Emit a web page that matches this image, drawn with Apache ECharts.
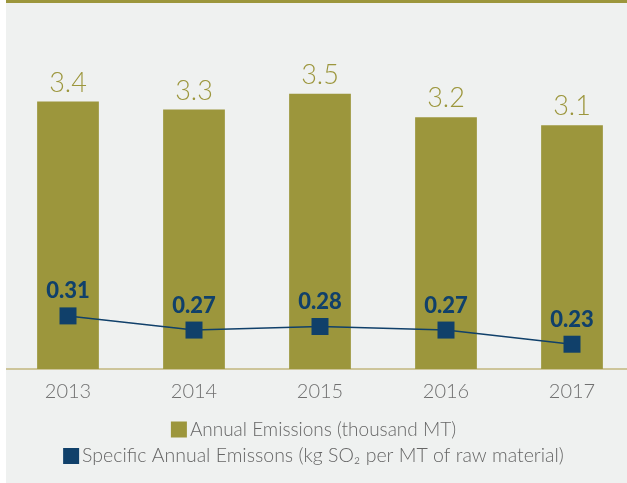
<!DOCTYPE html>
<html>
<head>
<meta charset="utf-8">
<script src="https://cdn.jsdelivr.net/npm/echarts@6/dist/echarts.min.js"></script>
<style>
html,body{margin:0;padding:0;background:#fff;}
#main{width:627px;height:483px;}
</style>
</head>
<body>
<div id="main"></div>
<script>
var categories = ['2013', '2014', '2015', '2016', '2017'];
var annualEmissions = [3.4, 3.3, 3.5, 3.2, 3.1];
var specificEmissions = [0.31, 0.27, 0.28, 0.27, 0.23];
var barName = 'Annual Emissions (thousand MT)';
var lineName = 'Specific Annual Emissons (kg SO\u2082 per MT of raw material)';

var olive = '#9c963c';
var navy = '#10406a';
var font = 'Lato';

var chart = echarts.init(document.getElementById('main'));
chart.setOption({
  backgroundColor: '#eff1f0',
  animation: false,
  textStyle: { fontFamily: font },
  graphic: [
    { type: 'rect', left: 0, top: 0, z: 100, shape: { width: 6, height: 483 }, style: { fill: '#ffffff' } },
    { type: 'rect', left: 6, top: 0, z: 100, shape: { width: 621, height: 3 }, style: { fill: olive } }
  ],
  grid: { left: 5, top: 15, right: -8, bottom: 114, containLabel: false, outerBoundsMode: 'none' },
  legend: [
    {
      data: [{ name: barName, icon: 'rect' }],
      left: 'center', top: 415, itemWidth: 16, itemHeight: 16, itemGap: 4,
      textStyle: { fontFamily: font, fontSize: 19, fontWeight: 300, color: '#666666', padding: [0, 0, 0, -2] }
    },
    {
      data: [{ name: lineName, icon: 'rect' }],
      left: 'center', top: 441, itemWidth: 16, itemHeight: 16, itemGap: 4,
      textStyle: { fontFamily: font, fontSize: 19.5, fontWeight: 300, color: '#666666', padding: [0, 0, 0, -2] }
    }
  ],
  xAxis: {
    type: 'category',
    data: categories,
    axisLine: { lineStyle: { color: '#cdc59a', width: 2 } },
    axisTick: { show: false },
    axisLabel: { fontFamily: font, fontSize: 20, fontWeight: 300, color: '#707070', margin: 13 },
    splitLine: { show: false }
  },
  yAxis: [
    { type: 'value', min: 0, max: 4.5, show: false, splitLine: { show: false } },
    { type: 'value', min: 0.16, max: 1.16, show: false, splitLine: { show: false } }
  ],
  series: [
    {
      name: barName,
      type: 'bar',
      data: annualEmissions,
      barWidth: '49%',
      itemStyle: { color: olive },
      label: {
        show: true, position: 'top', distance: 5,
        fontFamily: font, fontSize: 27, fontWeight: 300, color: olive
      }
    },
    {
      name: lineName,
      type: 'line',
      yAxisIndex: 1,
      data: specificEmissions,
      symbol: 'rect',
      symbolSize: 17,
      lineStyle: { color: navy, width: 1.5 },
      itemStyle: { color: navy },
      label: {
        show: true, position: 'top', distance: 5,
        fontFamily: font, fontSize: 22, fontWeight: 900, color: navy,
        formatter: function (p) { return p.value.toFixed(2); }
      }
    }
  ]
});
</script>
</body>
</html>
